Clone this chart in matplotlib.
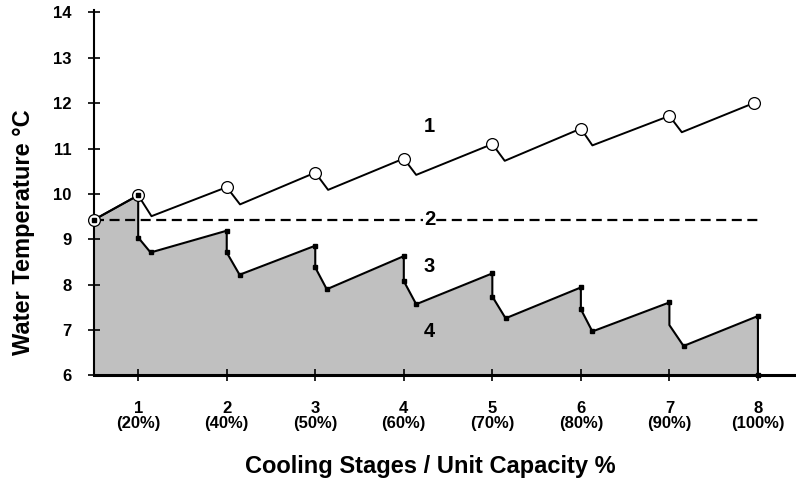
import matplotlib
matplotlib.use("Agg")
import matplotlib.pyplot as plt
from matplotlib.transforms import ScaledTranslation

plt.rcParams['font.family'] = ['Liberation Sans', 'DejaVu Sans']
plt.rcParams['font.weight'] = 'bold'

# Series 1: leaving water temperature (open circles at stage points)
s1_x = [0.5, 1.0, 1.15, 2.0, 2.15, 3.0, 3.145, 4.0, 4.14, 5.0, 5.14, 6.0, 6.13, 7.0, 7.14, 7.95]
s1_y = [9.43, 9.97, 9.51, 10.15, 9.77, 10.47, 10.09, 10.78, 10.42, 11.10, 10.73, 11.44, 11.07, 11.72, 11.36, 12.0]
circ_x = [1.0, 2.0, 3.0, 4.0, 5.0, 6.0, 7.0, 7.95]
circ_y = [9.97, 10.15, 10.47, 10.78, 11.10, 11.44, 11.72, 12.0]

# Series 2: set point (dashed)
s2_x = [0.5, 8.0]
s2_y = [9.43, 9.43]

# Series 3: water temperature sawtooth (filled area 4)
s3_x = [0.5, 1.0, 1.0, 1.14, 2.0, 2.0, 2.145, 3.0, 3.0, 3.13, 4.0, 4.0, 4.14,
        5.0, 5.0, 5.15, 6.0, 6.0, 6.13, 7.0, 7.0, 7.16, 8.0, 8.0]
s3_y = [9.43, 9.97, 9.04, 8.71, 9.19, 8.71, 8.22, 8.86, 8.38, 7.90, 8.63, 8.08, 7.57,
        8.25, 7.74, 7.26, 7.94, 7.46, 6.97, 7.61, 7.11, 6.65, 7.31, 6.0]
s3_marker_idx = [0, 1, 2, 3, 4, 5, 6, 7, 8, 9, 10, 11, 12, 13, 14, 15, 16, 17, 18, 19, 21, 22, 23]

stages = [1, 2, 3, 4, 5, 6, 7, 8]
stage_labels = ['1\n(20%)', '2\n(40%)', '3\n(50%)', '4\n(60%)', '5\n(70%)', '6\n(80%)', '7\n(90%)', '8\n(100%)']
yticks = [6, 7, 8, 9, 10, 11, 12, 13, 14]

fig = plt.figure(figsize=(7.96, 4.83), dpi=100)
ax = fig.add_axes([0.118, 0.2226, 0.882, 0.7564])

ax.fill_between(s3_x, s3_y, 6.0, color='#C0C0C0', lw=0, zorder=1)
ax.plot(s3_x, s3_y, color='black', lw=1.5, zorder=3)
ax.plot([s3_x[i] for i in s3_marker_idx], [s3_y[i] for i in s3_marker_idx],
        ls='none', marker='s', ms=3.2, color='black', zorder=6, clip_on=False)

ax.plot(s2_x, s2_y, color='black', lw=1.6, ls=(0, (4.5, 2.5)), zorder=2)

ax.plot(s1_x, s1_y, color='black', lw=1.4, zorder=4)
ax.plot(circ_x, circ_y, ls='none', marker='o', ms=8.5, mfc='white', mec='black', mew=0.9, zorder=5)
ax.plot([0.5], [9.43], ls='none', marker='o', ms=8.5, mfc='white', mec='black', mew=0.9, zorder=5, clip_on=False)

ax.text(4.29, 11.48, '1', fontsize=14.5, fontweight='bold', ha='center', va='center', zorder=7)
ax.text(4.29, 9.43, '2', fontsize=14.5, fontweight='bold', ha='center', va='center', zorder=7,
        bbox=dict(facecolor='white', edgecolor='none', pad=0.5))
ax.text(4.29, 8.41, '3', fontsize=14.5, fontweight='bold', ha='center', va='center', zorder=7)
ax.text(4.29, 6.98, '4', fontsize=14.5, fontweight='bold', ha='center', va='center', zorder=7)

ax.set_xlim(0.5, 8.43)
ax.set_ylim(6.0, 14.05)
ax.set_xticks(stages)
ax.set_xticklabels(stage_labels, fontsize=12, fontweight='bold', linespacing=1.0)
shift = ScaledTranslation(4 / 100, 0, fig.dpi_scale_trans)
for lab in ax.get_xticklabels():
    lab.set_transform(lab.get_transform() + shift)
ax.set_yticks(yticks)
ax.set_yticklabels([str(v) for v in yticks], fontsize=12, fontweight='bold')
ax.tick_params(axis='y', direction='inout', length=8, width=1.2, pad=12)
ax.tick_params(axis='x', direction='inout', length=8, width=1.2, pad=14.5)

for s in ['top', 'right']:
    ax.spines[s].set_visible(False)
ax.spines['left'].set_linewidth(1.5)
ax.spines['bottom'].set_linewidth(2.2)

fig.text(430 / 796, 1 - 473 / 483, 'Cooling Stages / Unit Capacity %', fontsize=17,
         fontweight='bold', ha='center', va='baseline')
fig.text(24 / 796, 1 - 232 / 483, 'Water Temperature °C', fontsize=17, fontweight='bold',
         rotation=90, ha='center', va='center')

fig.savefig('out.png', dpi=100)
